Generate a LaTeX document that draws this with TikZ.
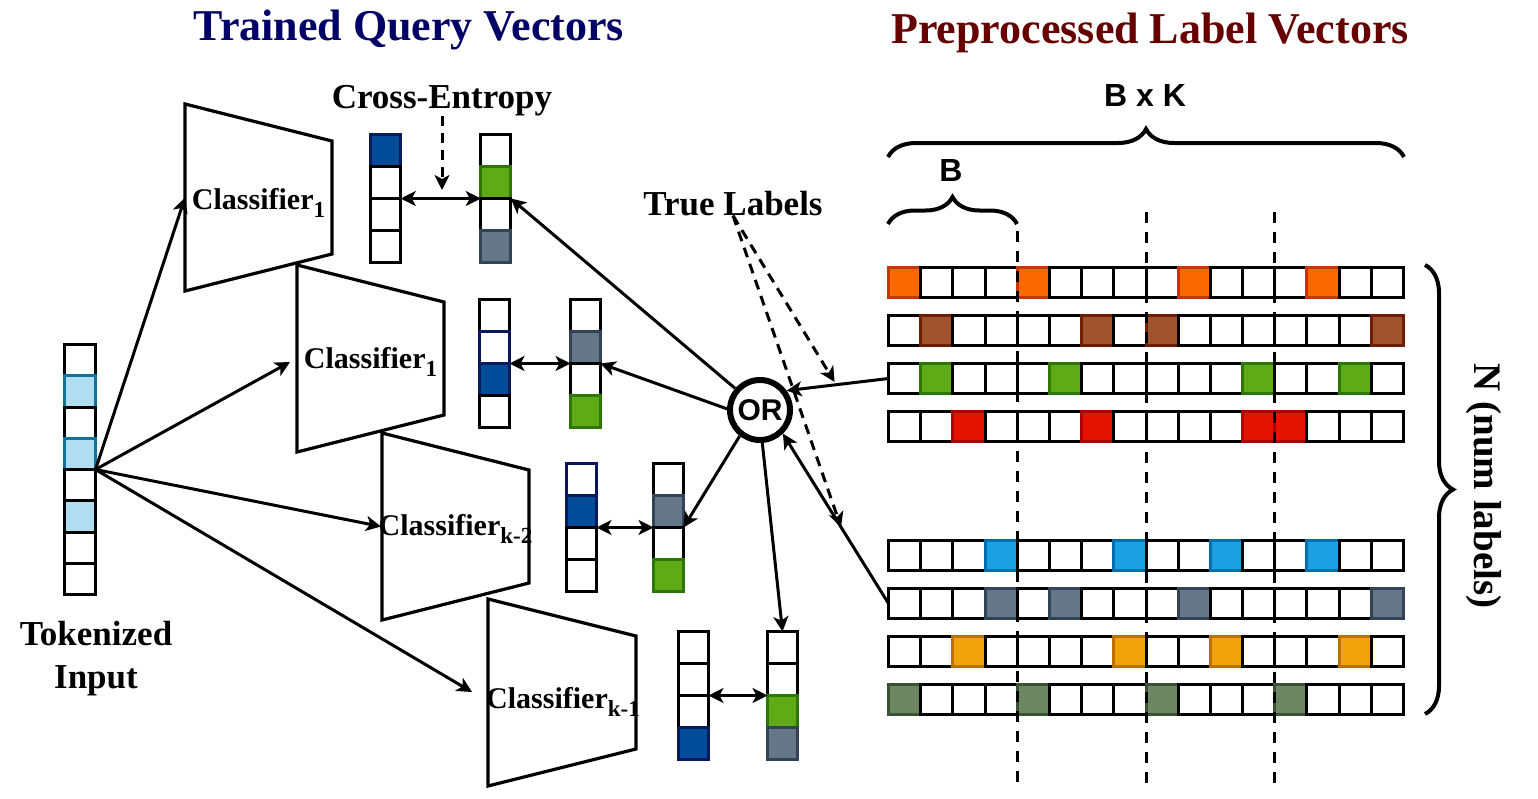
\documentclass[tikz,border=0pt]{standalone}
\usepackage{fontspec}
\setmainfont{Liberation Serif}
\newfontfamily\arialf{Liberation Sans}
\usetikzlibrary{arrows.meta,decorations.pathreplacing,calc}
\definecolor{navyT}{HTML}{000066}
\definecolor{redT}{HTML}{660000}
\definecolor{fW}{HTML}{FFFFFF}\definecolor{dW}{HTML}{000000}
\definecolor{fDB}{HTML}{004C99}\definecolor{dDB}{HTML}{0A1A5C}
\definecolor{fNB}{HTML}{FFFFFF}\definecolor{dNB}{HTML}{0A1560}
\definecolor{fGR}{HTML}{60A917}\definecolor{dGR}{HTML}{2D7600}
\definecolor{fSL}{HTML}{647687}\definecolor{dSL}{HTML}{314354}
\definecolor{fLB}{HTML}{B1DDF0}\definecolor{dLB}{HTML}{10739E}
\definecolor{fLK}{HTML}{B1DDF0}\definecolor{dLK}{HTML}{000000}
\definecolor{fOG}{HTML}{FA6800}\definecolor{dOG}{HTML}{C73500}
\definecolor{fBR}{HTML}{A0522D}\definecolor{dBR}{HTML}{6D1F00}
\definecolor{fRD}{HTML}{E51400}\definecolor{dRD}{HTML}{B20000}
\definecolor{fBL}{HTML}{1BA1E2}\definecolor{dBL}{HTML}{006EAF}
\definecolor{fAM}{HTML}{F0A30A}\definecolor{dAM}{HTML}{BD7000}
\definecolor{fOL}{HTML}{6D8764}\definecolor{dOL}{HTML}{3A5431}
\newcommand\qvec[4]{\foreach \s [count=\i from 0] in {#4}{\node[qcell,fill=f\s,draw=d\s] (#1-\i) at (#2,{#3+16+32*\i}) {};}}
\newcommand\lrow[3]{\foreach \s [count=\i from 0] in {#3}{\node[lcell,fill=f\s,draw=d\s] (#1-\i) at ({904.595+32.19*\i},#2) {};}}
\newcommand\clsub[1]{\raisebox{-8pt}{\fontsize{23}{23}\selectfont #1}}
\begin{document}
\begin{tikzpicture}[x=1pt,y=-1pt,
 cell/.style={line width=3pt,inner sep=0pt,outer sep=0pt},
 qcell/.style={cell,minimum width=30pt,minimum height=32pt},
 lcell/.style={cell,minimum width=32.19pt,minimum height=30pt},
 icell/.style={cell,minimum width=31pt,minimum height=31.25pt},
 trap/.style={draw=black,fill=white,line width=3.2pt,line join=miter},
 arr/.style={line width=3pt,-{Stealth[length=15pt,width=15pt,inset=4pt]}},
 dbl/.style={line width=3pt,{Stealth[length=15pt,width=15pt,inset=4pt]}-{Stealth[length=15pt,width=15pt,inset=4pt]}},
 dasharr/.style={arr,dash pattern=on 10pt off 7pt},
 vdash/.style={line width=3pt,dash pattern=on 11pt off 9pt},
 brc/.style={line width=4pt,decorate,decoration={brace,amplitude=#1}},
 lbl/.style={inner sep=0pt,font=\bfseries\fontsize{35}{43}\selectfont},
 clf/.style={inner sep=0pt,font=\bfseries\fontsize{30}{34}\selectfont},
 ttl/.style={inner sep=0pt,font=\bfseries\fontsize{44}{50}\selectfont},
 sansb/.style={inner sep=0pt,font=\arialf\bfseries\fontsize{32}{36}\selectfont}]
\fill[white] (0,0) rectangle (1538,798);
\useasboundingbox (0,0) rectangle (1538,798);

% titles
\node[ttl,text=navyT,anchor=base] (tq) at (409,40) {Trained Query Vectors};
\node[ttl,text=redT,anchor=base] (tp) at (1150,43) {Preprocessed Label Vectors};

% classifiers
\draw[trap] (185,104) -- (332,141) -- (332,254) -- (185,291) -- cycle;
\draw[trap] (297,265) -- (444,302) -- (444,415) -- (297,452) -- cycle;
\draw[trap] (382,433) -- (529,470) -- (529,583) -- (382,620) -- cycle;
\draw[trap] (488,599) -- (636,636) -- (636,749) -- (488,786) -- cycle;
\node[clf,anchor=base] (c1) at (258.5,209) {Classifier\clsub{1}};
\node[clf,anchor=base] (c2) at (370.5,368) {Classifier\clsub{1}};
\node[clf,anchor=base] (c3) at (455.5,535) {Classifier\clsub{k-2}};
\node[clf,anchor=base] (c4) at (563,708) {Classifier\clsub{k-1}};
\coordinate (a1) at (185,197.5);
\coordinate (a2) at (290,362);
\coordinate (a3) at (381,526.5);
\coordinate (a4) at (472,692);

% tokenized input
\foreach \s [count=\i from 0] in {W,LB,W,LB,W,LK,W,W}{\node[icell,fill=f\s,draw=d\s] (in-\i) at (80,{344.5+15.625+31.25*\i}) {};}
\node[lbl,align=center,anchor=north] (tok) at (96,621) {Tokenized\\Input};
\foreach \k in {1,2,3,4}{\draw[arr] (in-3.south east) -- (a\k);}

% query / label vectors
\qvec{q1l}{385.75}{134.5}{DB,W,W,W}
\qvec{q1r}{495.75}{134.5}{W,GR,W,SL}
\qvec{q2l}{494.5}{299.5}{W,NB,DB,W}
\qvec{q2r}{585.5}{299.5}{W,SL,W,GR}
\qvec{q3l}{581.5}{463.5}{NB,DB,W,W}
\qvec{q3r}{668.5}{463.5}{W,SL,W,GR}
\qvec{q4l}{693.5}{631.5}{W,W,W,DB}
\qvec{q4r}{782.5}{631.5}{W,W,GR,SL}
\draw[dbl] (q1l-1.south east) -- (q1r-1.south west);
\draw[dbl] (q2l-1.south east) -- (q2r-1.south west);
\draw[dbl] (q3l-1.south east) -- (q3r-1.south west);
\draw[dbl] (q4l-1.south east) -- (q4r-1.south west);

% cross entropy
\node[lbl,anchor=base] (ce) at (442,108) {Cross-Entropy};
\coordinate (cet) at (442,190);
\draw[dasharr] (ce.south) -- (cet);

% label grid
\lrow{r1}{282.5}{OG,W,W,W,OG,W,W,W,W,OG,W,W,W,OG,W,W}
\lrow{r2}{330.5}{W,BR,W,W,W,W,BR,W,BR,W,W,W,W,W,W,BR}
\lrow{r3}{378.5}{W,GR,W,W,W,GR,W,W,W,W,W,GR,W,W,GR,W}
\lrow{r4}{426.5}{W,W,RD,W,W,W,RD,W,W,W,W,RD,RD,W,W,W}
\lrow{r5}{555.5}{W,W,W,BL,W,W,W,BL,W,W,BL,W,W,BL,W,W}
\lrow{r6}{603.5}{W,W,W,SL,W,SL,W,W,W,SL,W,W,W,W,W,SL}
\lrow{r7}{651.5}{W,W,AM,W,W,W,W,AM,W,W,AM,W,W,W,AM,W}
\lrow{r8}{699.5}{OL,W,W,W,OL,W,W,W,OL,W,W,W,OL,W,W,W}
\draw[vdash] (1017.3,231) -- (1017.3,786);
\draw[vdash] (1146,212) -- (1146,786);
\draw[vdash] (1274.7,212) -- (1274.7,786);

% braces
\draw[brc=28pt] (888,157) -- (1404,157);
\draw[brc=27pt] (888,224) -- (1017,224);
\draw[brc=28pt] (1425,265) -- (1425,714);
\node[sansb] (bk) at (1145,95) {B x K};
\node[sansb] (bb) at (951,170) {B};
\node[inner sep=0pt,font=\bfseries\fontsize{39}{44}\selectfont,rotate=-90] (nl) at (1484,486) {N (num labels)};

% OR node and connectors
\node[circle,draw,line width=6pt,fill=white,minimum size=60pt,inner sep=0pt,font=\arialf\bfseries\fontsize{30}{30}\selectfont] (or) at (760,410) {OR};
\draw[arr] (or.139) -- (q1r-1.south east);
\draw[arr] (or.178) -- (q2r-1.south east);
\draw[arr] (or.232) -- (q3r-1.south east);
\draw[arr] (or.274) -- (q4r-0.north);
\draw[arr] (r3-0.west) -- (or.36);
\draw[arr] (r6-0.west) -- (or.-46);

% true labels
\node[lbl,anchor=base] (tl) at (733,215) {True Labels};
\coordinate (t1) at ($(r3-0.west)!0.53!(or.36)+(0,-3)$);
\coordinate (t2) at ($(r6-0.west)!0.45!(or.-46)$);
\draw[dasharr] (tl.south) -- (t1);
\draw[dasharr] (tl.south) -- (t2);
\end{tikzpicture}
\end{document}
